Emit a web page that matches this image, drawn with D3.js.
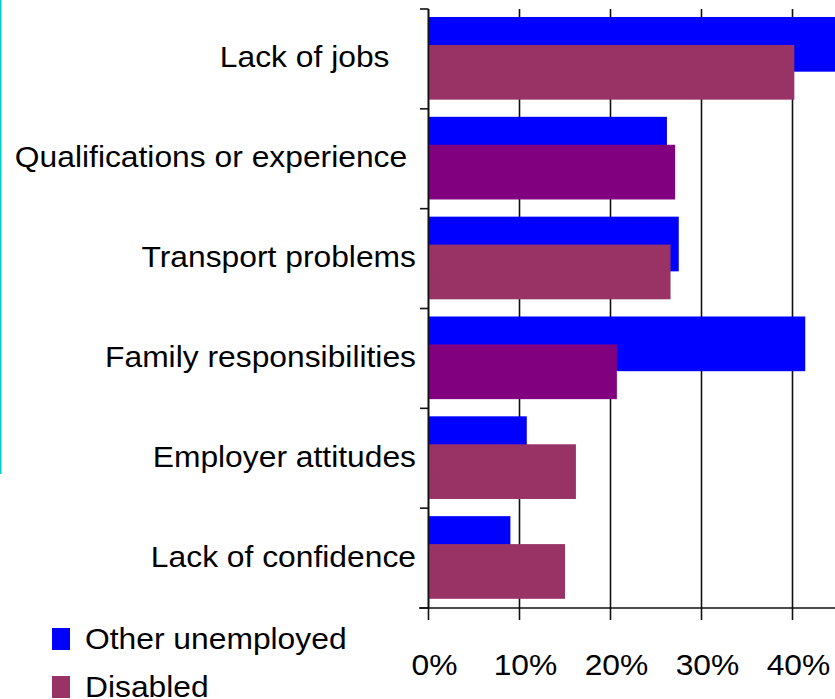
<!DOCTYPE html>
<html>
<head>
<meta charset="utf-8">
<script src="https://cdn.jsdelivr.net/npm/d3@7"></script>
<style>
  html, body { margin: 0; padding: 0; background: #fff; }
  svg { display: block; }
  text { font-family: "Liberation Sans", Arial, sans-serif; fill: #000; white-space: pre; }
</style>
</head>
<body>
<svg id="chart" width="835" height="699"></svg>
<script>
// Reasons given for not working, by group (percent)
const categories = [
  "Lack of jobs   ",
  "Qualifications or experience ",
  "Transport problems",
  "Family responsibilities",
  "Employer attitudes",
  "Lack of confidence"
];
const otherUnemployed = [46.0, 26.2, 27.5, 41.4, 10.8, 9.0];
const disabled = [40.2, 27.1, 26.6, 20.7, 16.2, 15.0];
const xTicks = [0, 10, 20, 30, 40];
const seriesNames = ["Other unemployed", "Disabled"];

// colours
const blue = "#0000FF";
const disabledFill = ["#993366", "#800080", "#993366", "#800080", "#993366", "#993366"];
const fontSize = 30;
const stretch = 1.06;

const svg = d3.select("#chart");

// side rule on the left edge
svg.append("rect").attr("x", 0).attr("y", 0).attr("width", 1.5).attr("height", 474)
  .attr("fill", "#00CCCC");

const x = d3.scaleLinear().domain([0, 50]).range([428.5, 883.5]);
const y = d3.scaleBand().domain(categories).range([9, 608]).padding(0);
const bw = y.bandwidth();

// vertical gridlines (run past the axis as tick marks)
svg.append("g").selectAll("line").data(xTicks).join("line")
  .attr("x1", d => x(d)).attr("x2", d => x(d))
  .attr("y1", 9).attr("y2", 620)
  .attr("stroke", "#111").attr("stroke-width", 1.6);

// bars: other unemployed behind, disabled in front
svg.append("g").selectAll("rect").data(categories).join("rect")
  .attr("x", x(0)).attr("y", d => y(d) + bw * 0.08)
  .attr("width", (d, i) => x(otherUnemployed[i]) - x(0))
  .attr("height", bw * 0.548)
  .attr("fill", blue);

svg.append("g").selectAll("rect").data(categories).join("rect")
  .attr("x", x(0)).attr("y", d => y(d) + bw * 0.36)
  .attr("width", (d, i) => x(disabled[i]) - x(0))
  .attr("height", bw * 0.548)
  .attr("fill", (d, i) => disabledFill[i]);

// left axis: line + ticks at band boundaries
const yEdges = categories.map(c => y(c)).concat([y.range()[1]]);
svg.append("line").attr("x1", x(0)).attr("x2", x(0)).attr("y1", 9).attr("y2", 608)
  .attr("stroke", "#111").attr("stroke-width", 1.6);
svg.append("g").selectAll("line").data(yEdges).join("line")
  .attr("x1", 420).attr("x2", x(0)).attr("y1", d => d).attr("y2", d => d)
  .attr("stroke", "#111").attr("stroke-width", 1.6);

// bottom axis line
svg.append("line").attr("x1", 419).attr("x2", 835).attr("y1", 608).attr("y2", 608)
  .attr("stroke", "#111").attr("stroke-width", 1.6);

// category labels
svg.append("g").selectAll("text").data(categories).join("text")
  .attr("transform", d => `translate(416,${y(d) + bw / 2 + 8.5}) scale(${stretch},1)`)
  .attr("text-anchor", "end")
  .style("font-size", fontSize + "px")
  .text(d => d);

// x tick labels
svg.append("g").selectAll("text").data(xTicks).join("text")
  .attr("transform", d => `translate(${x(d) + 6},675) scale(${stretch},1)`)
  .attr("text-anchor", "middle")
  .style("font-size", fontSize + "px")
  .text(d => d + "%");

// legend
const legendColours = [blue, "#993366"];
const legend = svg.append("g").selectAll("g").data(seriesNames).join("g")
  .attr("transform", (d, i) => `translate(0,${i * 48})`);
legend.append("rect").attr("x", 52).attr("y", 628).attr("width", 18).attr("height", 22)
  .attr("fill", (d, i) => legendColours[i]);
legend.append("text")
  .attr("transform", `translate(85,649) scale(${stretch},1)`)
  .style("font-size", fontSize + "px")
  .text(d => d);
</script>
</body>
</html>
